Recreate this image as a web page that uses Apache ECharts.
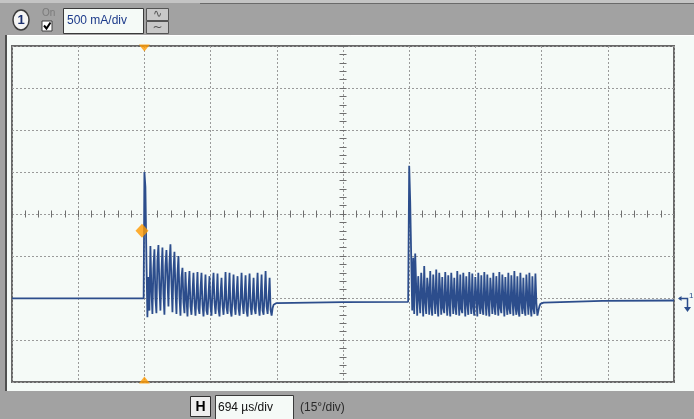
<!DOCTYPE html>
<html>
<head>
<meta charset="utf-8">
<script src="https://cdn.jsdelivr.net/npm/echarts@6/dist/echarts.min.js"></script>
<style>
html,body{margin:0;padding:0;background:#a2a2a2;}
#chart{width:694px;height:419px;}
</style>
</head>
<body>
<div id="chart"></div>
<script>
// ---- axis settings (time in microseconds, current in mA) ----
const timePerDiv = 694;          // µs/div
const xMin = -1388, xMax = 5552; // 10 divisions, trigger at 2 div
const ampPerDiv = 500;           // mA/div
const yMin = -2000, yMax = 2000; // 8 divisions

// ---- labels ----
const channelLabel = '1';
const voltsLabel = '500 mA/div';
const timeLabel = '694 µs/div';
const phaseLabel = '(15°/div)';

// ---- trace data ----
const sampleStepUs = 10.5;
const burst1Start = 0;
const burst2Start = 2776;

const preTrigger = [[-1388, -1005], [-8, -1005]];
const burst1Values = [
  500, 320, -520, -1230, -750, -1150, -380, -900, -1190, -650, -420, -1000, -1180, -560, -370, -880,
  -1150, -700, -400, -950, -1200, -620, -430, -780, -1100, -590, -360, -820, -1170, -680, -450, -900,
  -1190, -720, -500, -980, -1210, -760, -640, -1050, -1180,
  -690, -1000, -1220, -900, -680, -1100, -1200, -950, -700, -1050, -1210, -980, -690, -1120, -1190, -900,
  -700, -1080, -1220, -1000, -720, -1150, -1200, -960, -740, -1100, -1210, -900, -700, -1050, -1190, -1000,
  -710, -1130, -1220, -950, -760, -1080, -1200, -1010, -690, -1110, -1190, -980, -700, -1150, -1220, -1000,
  -720, -1080, -1200, -950, -740, -1120, -1210, -1010, -700, -1060, -1190, -990, -730, -1150, -1220, -960,
  -710, -1100, -1200, -1020, -760, -1130, -1190, -980, -700, -1090, -1210, -1010, -720, -1150, -1200, -980,
  -680, -1100, -1190, -1000, -760, -1140, -1210, -1120, -1080
];
const between = [[1385, -1060], [2080, -1048], [2765, -1045]];
const burst2Values = [
  575, 146, -508, -1150, -520, -1190, -470, -880, -1210, -740, -1000, -1180, -700, -950, -1220, -620,
  -1050, -1190, -760, -900, -1200, -680, -1100, -1210, -720, -980, -1190, -660, -1060, -1220, -700, -930,
  -1200, -750, -1120, -1180, -690, -1010, -1210, -730, -1080, -1220, -700, -950, -1190, -760, -1100, -1200,
  -680, -1000, -1210, -720, -1130, -1180, -700, -960, -1220, -740, -1070, -1200, -690, -1020, -1190, -710,
  -1110, -1210, -750, -980, -1220, -700, -1060, -1190, -730, -1120, -1200, -690, -1000, -1210, -720, -1080,
  -1220, -760, -960, -1190, -700, -1100, -1200, -740, -1030, -1210, -690, -1120, -1180, -720, -990, -1220,
  -750, -1070, -1200, -700, -1130, -1190, -730, -1010, -1210, -680, -1090, -1200, -740, -1150, -1220, -700,
  -1040, -1190, -760, -1120, -1210, -720, -1000, -1200, -700, -1090, -1220, -740, -1130, -1190, -710, -1060,
  -1210, -1150, -1100, -1070
];
const tail = [[4185, -1055], [4800, -1035], [5552, -1030]];

// ---- trigger markers ----
const triggerTime = 0;
const triggerLevel = -200;

function burstPoints(start, values) {
  return values.map((v, i) => [start + i * sampleStepUs, v]);
}
const trace = [].concat(
  preTrigger,
  burstPoints(burst1Start, burst1Values),
  between,
  burstPoints(burst2Start, burst2Values),
  tail
);

const gridColor = '#9a9a9a';
const traceColor = '#2c4d8c';
const orange = '#ff9a00';

const chart = echarts.init(document.getElementById('chart'), null, {renderer: 'canvas'});

const hiddenAxisBase = {
  axisLabel: {show: false},
  splitLine: {show: false},
  axisTick: {show: true, length: 3.5, lineStyle: {color: '#6e6e6e', width: 1}},
  minorTick: {show: true, splitNumber: 5, length: 3.5, lineStyle: {color: '#6e6e6e', width: 1}}
};

chart.setOption({
  animation: false,
  backgroundColor: '#a2a2a2',
  grid: {
    left: 12, top: 46, width: 662, height: 336,
    show: true, backgroundColor: '#f5faf7', borderColor: '#686868', borderWidth: 2
  },
  xAxis: [
    {
      type: 'value', min: xMin, max: xMax, interval: timePerDiv,
      axisLabel: {show: false}, axisLine: {show: false}, axisTick: {show: false},
      splitLine: {show: true, lineStyle: {color: gridColor, type: [2, 2], width: 1}}
    },
    Object.assign({type: 'value', min: -5 * timePerDiv, max: 5 * timePerDiv, interval: timePerDiv, position: 'bottom'},
      hiddenAxisBase, {axisLine: {show: true, onZero: true, onZeroAxisIndex: 0, lineStyle: {opacity: 0}}}),
    Object.assign({type: 'value', min: -5 * timePerDiv, max: 5 * timePerDiv, interval: timePerDiv, position: 'top'},
      hiddenAxisBase, {axisLine: {show: true, onZero: true, onZeroAxisIndex: 0, lineStyle: {opacity: 0}}})
  ],
  yAxis: [
    {
      type: 'value', min: yMin, max: yMax, interval: ampPerDiv,
      axisLabel: {show: false}, axisLine: {show: false}, axisTick: {show: false},
      splitLine: {show: true, lineStyle: {color: gridColor, type: [2, 2], width: 1}}
    },
    Object.assign({type: 'value', min: yMin, max: yMax, interval: ampPerDiv, position: 'left'},
      hiddenAxisBase, {axisLine: {show: true, onZero: true, onZeroAxisIndex: 1, lineStyle: {opacity: 0}}}),
    Object.assign({type: 'value', min: yMin, max: yMax, interval: ampPerDiv, position: 'right'},
      hiddenAxisBase, {axisLine: {show: true, onZero: true, onZeroAxisIndex: 1, lineStyle: {opacity: 0}}})
  ],
  series: [
    {
      type: 'line', xAxisIndex: 0, yAxisIndex: 0, data: trace,
      symbol: 'none', sampling: null, clip: true,
      lineStyle: {color: traceColor, width: 1.8},
      z: 5
    },
    {
      type: 'scatter', xAxisIndex: 0, yAxisIndex: 0, clip: false, z: 6,
      data: [[triggerTime, yMax]], symbol: 'triangle', symbolRotate: 180,
      symbolSize: [11, 7], symbolOffset: [0, 2],
      itemStyle: {color: orange}
    },
    {
      type: 'scatter', xAxisIndex: 0, yAxisIndex: 0, clip: false, z: 6,
      data: [[triggerTime, yMin]], symbol: 'triangle',
      symbolSize: [11, 7], symbolOffset: [0, -2],
      itemStyle: {color: orange}
    },
    {
      type: 'scatter', xAxisIndex: 0, yAxisIndex: 0, clip: false, z: 7,
      data: [[triggerTime - 25, triggerLevel]], symbol: 'diamond',
      symbolSize: [13, 14],
      itemStyle: {color: orange}
    }
  ],
  graphic: [
    // top strip
    {type: 'rect', shape: {x: 0, y: 0, width: 694, height: 3}, style: {fill: '#c4c4c4'}, z: -10},
    {type: 'line', shape: {x1: 200, y1: 3.5, x2: 694, y2: 3.5}, style: {stroke: '#6a6a6a', lineWidth: 1}, z: -9},
    // panel behind the plot frame
    {type: 'rect', shape: {x: 7, y: 35, width: 687, height: 356}, style: {fill: '#f5faf7'}, z: -10},
    {type: 'line', shape: {x1: 7, y1: 35.5, x2: 694, y2: 35.5}, style: {stroke: '#ffffff', lineWidth: 1}, z: -9},
    {type: 'rect', shape: {x: 5, y: 35, width: 2, height: 356}, style: {fill: '#505050'}, z: -9},
    // channel badge
    {type: 'ellipse', shape: {cx: 21, cy: 20, rx: 8, ry: 10}, style: {fill: '#f4f4f4', stroke: '#3c3c3c', lineWidth: 1.5}},
    {type: 'text', style: {x: 21, y: 20, text: channelLabel, fill: '#1a2f6e', font: 'bold 13px "Liberation Sans", Arial, sans-serif', align: 'center', verticalAlign: 'middle'}},
    // On checkbox
    {type: 'text', style: {x: 42, y: 13, text: 'On', fill: '#7a7a7a', font: '10px "Liberation Sans", Arial, sans-serif', verticalAlign: 'middle'}},
    {type: 'rect', shape: {x: 42, y: 21, width: 10, height: 10}, style: {fill: '#ffffff', stroke: '#404040', lineWidth: 1}},
    {type: 'polyline', shape: {points: [[44, 25.5], [46.5, 28.5], [50.5, 22.5]]}, style: {stroke: '#000000', lineWidth: 2, fill: null}},
    // volts/div box
    {type: 'rect', shape: {x: 63.5, y: 8.5, width: 80, height: 25}, style: {fill: '#f5faf7', stroke: '#3a3a3a', lineWidth: 1}},
    {type: 'text', style: {x: 67, y: 21, text: voltsLabel, fill: '#1c3a8a', font: '12px "Liberation Sans", Arial, sans-serif', verticalAlign: 'middle'}},
    // spin buttons
    {type: 'rect', shape: {x: 146.5, y: 8.5, width: 22, height: 12}, style: {fill: '#c8c8c8', stroke: '#555555', lineWidth: 1}},
    {type: 'rect', shape: {x: 146.5, y: 21.5, width: 22, height: 12}, style: {fill: '#c8c8c8', stroke: '#555555', lineWidth: 1}},
    {type: 'text', style: {x: 157.5, y: 14.5, text: '∿', fill: '#555555', font: '11px "DejaVu Sans", sans-serif', align: 'center', verticalAlign: 'middle'}},
    {type: 'text', style: {x: 157.5, y: 27.5, text: '~', fill: '#555555', font: '12px "DejaVu Sans", sans-serif', align: 'center', verticalAlign: 'middle'}},
    // ground / offset marker at right
    {type: 'polyline', shape: {points: [[679, 298.5], [687.5, 298.5], [687.5, 308]]}, style: {stroke: '#2c4d8c', lineWidth: 1.5, fill: null}},
    {type: 'polygon', shape: {points: [[684, 307], [691, 307], [687.5, 312]]}, style: {fill: '#2c4d8c'}},
    {type: 'polygon', shape: {points: [[678, 298.5], [681.5, 296], [681.5, 301]]}, style: {fill: '#2c4d8c'}},
    {type: 'text', style: {x: 689, y: 296, text: channelLabel, fill: '#2c4d8c', font: '8px "Liberation Sans", Arial, sans-serif', verticalAlign: 'middle'}},
    // bottom bar
    {type: 'rect', shape: {x: 190.5, y: 396.5, width: 20, height: 20}, style: {fill: '#eeeeee', stroke: '#303030', lineWidth: 1}},
    {type: 'text', style: {x: 200.5, y: 407, text: 'H', fill: '#000000', font: 'bold 14px "Liberation Sans", Arial, sans-serif', align: 'center', verticalAlign: 'middle'}},
    {type: 'rect', shape: {x: 215.5, y: 395.5, width: 78, height: 24}, style: {fill: '#f5faf7', stroke: '#3a3a3a', lineWidth: 1}},
    {type: 'text', style: {x: 218, y: 408, text: timeLabel, fill: '#111111', font: '12px "Liberation Sans", Arial, sans-serif', verticalAlign: 'middle'}},
    {type: 'text', style: {x: 300, y: 408, text: phaseLabel, fill: '#2a2a2a', font: '12px "Liberation Sans", Arial, sans-serif', verticalAlign: 'middle'}}
  ]
});
</script>
</body>
</html>
